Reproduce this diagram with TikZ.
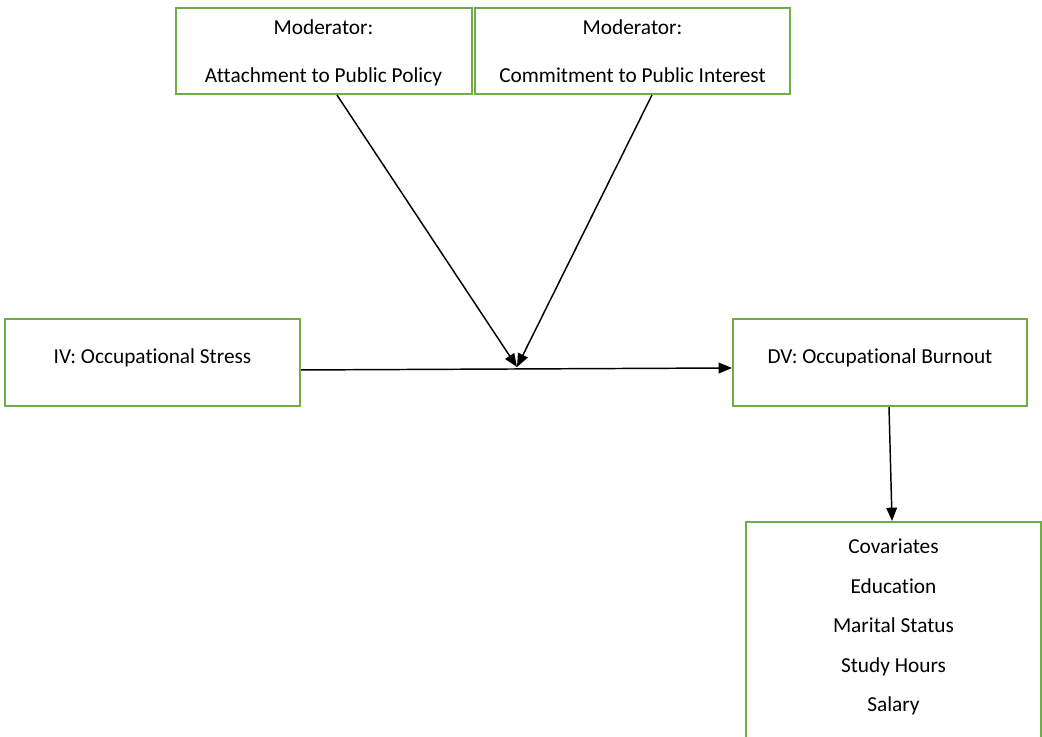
\documentclass[tikz,border=0pt]{standalone}
\usepackage{fontspec}
\setmainfont{Carlito}[Ligatures=NoCommon]
\usetikzlibrary{arrows.meta}
\definecolor{boxgreen}{HTML}{70AD47}
\tikzset{
  box/.style={draw=boxgreen, line width=1.5pt, fill=white, inner sep=0pt, align=center, font=\fontsize{16}{20}\selectfont},
  txt/.style={inner sep=0pt, align=center, font=\fontsize{16}{20}\selectfont},
  conn/.style={draw=black, line width=1.1pt, -{Triangle[length=10pt,width=8pt]}}
}
\begin{document}
\begin{tikzpicture}[x=0.75pt,y=-0.75pt]
\useasboundingbox (0,0) rectangle (1042,736);
\clip (0,0) rectangle (1042,736);
\node[box, minimum width=222pt, minimum height=64.5pt] (m1) at (323.5,51) {};
\node[txt] (m1t) at (323.5,52.5) {Moderator:\\[16pt]Attachment to Public Policy};
\node[box, minimum width=236.25pt, minimum height=64.5pt] (m2) at (632.5,51) {};
\node[txt] (m2t) at (632.5,51) {Moderator:\\[16pt]Commitment to Public Interest};
\node[box, minimum width=221.25pt, minimum height=65.25pt] (iv) at (152.5,362.5) {};
\node[txt, anchor=base] (ivt) at (152.5,363) {IV: Occupational Stress};
\node[box, minimum width=220.5pt, minimum height=65.25pt] (dv) at (880,362.5) {};
\node[txt, anchor=base] (dvt) at (880,363) {DV: Occupational Burnout};
\node[box, minimum width=221.25pt, minimum height=180pt] (cov) at (893.5,642) {};
\node[txt, anchor=north] (covt) at (893.5,539) {Covariates\\[9.6pt]Education\\[9.6pt]Marital Status\\[9.6pt]Study Hours\\[9.6pt]Salary};
\coordinate (j) at (517,367);
\draw[conn] ([xshift=10.1pt]m1.south) -- (j);
\draw[conn] ([xshift=14.6pt]m2.south) -- (j);
\draw[conn] ([yshift=-5.6pt]iv.east) -- ([yshift=-4.1pt]dv.west);
\draw[conn] ([xshift=6.75pt]dv.south) -- ([xshift=-1.1pt]cov.north);
\end{tikzpicture}
\end{document}
